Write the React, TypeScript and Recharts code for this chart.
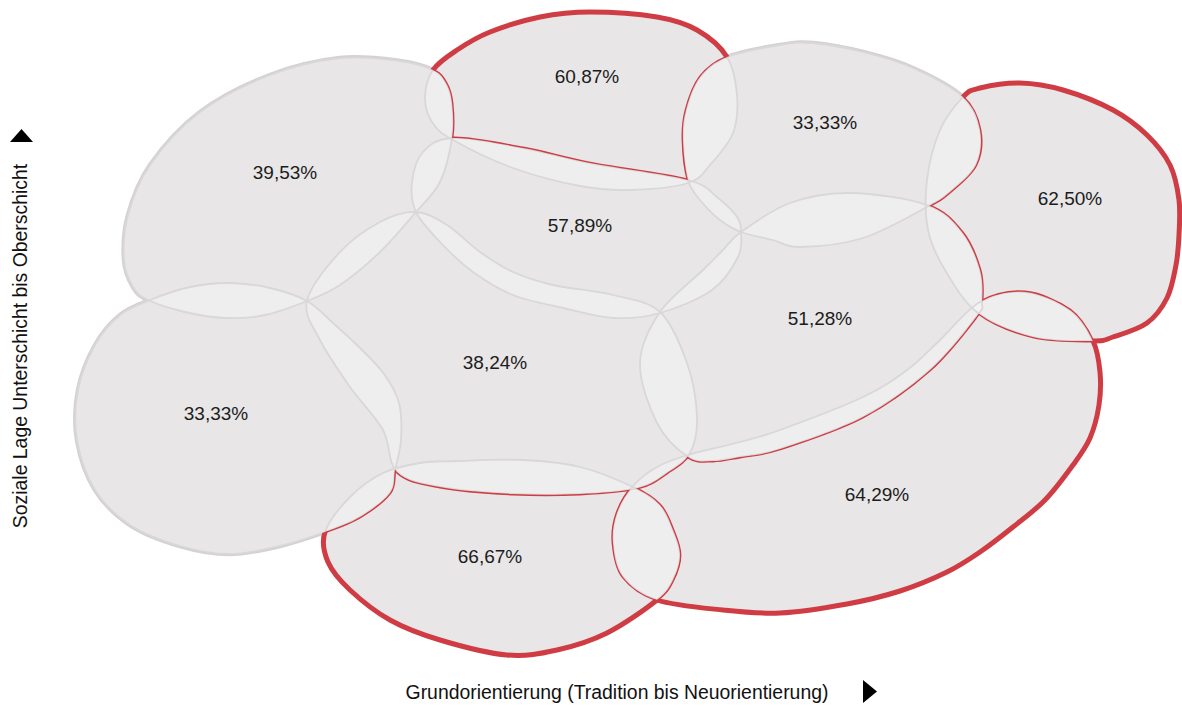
import React from 'react';
import { ScatterChart, Scatter, XAxis, YAxis } from 'recharts';

const W = 1182;
const H = 707;
const RED = '#cf3c44';

// Milieu labels (share values) and their centres on the map
const milieuLabels = ['39,53%', '33,33%', '60,87%', '57,89%', '38,24%', '33,33%', '62,50%', '51,28%', '66,67%', '64,29%'];
const labelX = [285, 216, 587, 580, 495, 825, 1070, 820, 490, 877];
const labelY = [172, 413, 76, 225, 362, 122, 198, 318, 556, 494];
const highlighted = [false, false, true, false, false, false, true, false, true, true];

// Milieu outlines (Grundorientierung x, soziale Lage y)
const outlineA = [[148,300],[133,287],[124,260],[128,215],[150,165],[200,112],[270,75],[340,58],[400,61],[433,70],[446,83],[452,103],[452,138],[440,182],[416,212],[380,252],[340,285],[307,301],[265,315],[225,318],[185,312]];
const outlineB = [[150,300],[190,287],[230,283],[270,288],[307,301],[333,323],[360,348],[384,374],[399,403],[401,440],[395,470],[390,493],[360,517],[325,532],[280,546],[230,554],[180,546],[130,525],[95,490],[77,440],[78,390],[95,345],[120,315]];
const outlineC = [[433,70],[457,50],[490,32],[540,17],[590,12],[657,17],[697,30],[727,57],[737,95],[733,133],[710,165],[688,183],[630,190],[580,186],[513,168],[453,140],[432,122],[425,97]];
const outlineD = [[453,138],[523,148],[590,163],[688,180],[718,198],[737,217],[741,232],[738,257],[712,290],[660,313],[613,318],[563,308],[513,295],[473,272],[440,242],[416,212],[412,182],[423,152]];
const outlineE = [[416,212],[447,225],[480,252],[513,272],[553,285],[613,295],[660,312],[687,363],[697,417],[690,453],[667,473],[638,488],[580,494],[513,494],[440,487],[397,472],[383,430],[350,387],[320,340],[307,301],[340,252],[380,222]];
const outlineF = [[727,57],[780,45],[813,43],[863,52],[913,68],[963,97],[980,130],[976,165],[950,192],[927,207],[863,238],[800,247],[773,240],[741,232],[720,220],[700,200],[688,180],[683,140],[686,110],[700,77]];
const outlineG = [[963,97],[980,88],[1020,83],[1063,90],[1113,110],[1147,135],[1170,165],[1179,200],[1179,235],[1176,265],[1167,298],[1147,323],[1113,337],[1093,341],[1033,337],[978,313],[945,270],[928,230],[927,180],[940,130]];
const outlineH = [[741,232],[790,203],[850,193],[927,205],[962,232],[980,270],[982,302],[977,316],[930,370],[863,417],[780,449],[740,457],[713,461],[688,457],[657,423],[640,363],[660,312],[703,270],[723,250]];
const outlineI = [[325,532],[350,497],[383,473],[420,463],[457,461],[523,460],[580,467],[633,487],[660,505],[673,530],[680,555],[673,580],[657,600],[607,633],[557,650],[507,655],[440,640],[390,620],[350,590],[328,562]];
const outlineJ = [[980,302],[1025,292],[1070,310],[1093,341],[1100,372],[1099,405],[1090,438],[1073,465],[1045,500],[1013,527],[980,552],[947,572],[900,591],[847,604],[780,613],[723,610],[657,600],[623,577],[613,543],[617,513],[633,486],[657,467],[688,455],[740,442],[780,430],[863,397],[907,370],[940,340]];

const outlines = [outlineA, outlineB, outlineC, outlineD, outlineE, outlineF, outlineG, outlineH, outlineI, outlineJ];

const outlinePoints = outlines.flatMap((o, b) => o.map(([x, y]) => ({ x, y, b })));
const labelPoints = milieuLabels.map((label, i) => ({ x: labelX[i], y: labelY[i], label }));

type P = { x: number; y: number };

function closedPath(pts: P[]): string {
  const n = pts.length;
  if (n < 3) return '';
  let d = `M${pts[0].x},${pts[0].y}`;
  for (let i = 0; i < n; i++) {
    const p0 = pts[(i - 1 + n) % n];
    const p1 = pts[i];
    const p2 = pts[(i + 1) % n];
    const p3 = pts[(i + 2) % n];
    const c1x = p1.x + (p2.x - p0.x) / 6;
    const c1y = p1.y + (p2.y - p0.y) / 6;
    const c2x = p2.x - (p3.x - p1.x) / 6;
    const c2y = p2.y - (p3.y - p1.y) / 6;
    d += ` C${c1x},${c1y} ${c2x},${c2y} ${p2.x},${p2.y}`;
  }
  return d + ' Z';
}

const renderBlobs = (props: any) => {
  const pts: P[] = props.points || [];
  const ds: string[] = [];
  let k = 0;
  outlines.forEach((o) => {
    ds.push(closedPath(pts.slice(k, k + o.length)));
    k += o.length;
  });
  return (
    <g className="milieu-blobs">
      <defs>
        {ds.map((d, i) =>
          highlighted[i] ? (
            <React.Fragment key={`defs-${i}`}>
              <mask id={`excl-${i}`} maskUnits="userSpaceOnUse" x={-50} y={-50} width={W + 100} height={H + 100}>
                <rect x={-50} y={-50} width={W + 100} height={H + 100} fill="#fff" />
                {ds.map((d2, j) => (j !== i ? <path key={j} d={d2} fill="#000" /> : null))}
              </mask>
              <clipPath id={`own-${i}`}>
                <path d={d} />
              </clipPath>
            </React.Fragment>
          ) : null
        )}
      </defs>
      {ds.map((d, i) =>
        highlighted[i] ? null : <path key={`u${i}`} d={d} fill="none" stroke="#d3d1d2" strokeWidth={4.5} />
      )}
      {ds.map((d, i) => (
        <path key={`f${i}`} d={d} fill="#dddadb" stroke="none" />
      ))}
      {ds.map((d, i) => (
        <path key={`w${i}`} d={d} fill="#ffffff" fillOpacity={1 / 3} stroke="none" />
      ))}
      {ds.map((d, i) => (
        <path key={`t${i}`} d={d} fill="none" stroke="#d9d7d8" strokeWidth={1.8} />
      ))}
      {ds.map((d, i) =>
        highlighted[i] ? (
          <g key={`r${i}`}>
            <g mask={`url(#excl-${i})`}>
              <path d={d} fill="none" stroke={RED} strokeWidth={5} />
            </g>
            <g mask={`url(#excl-${i})`}>
              <g clipPath={`url(#own-${i})`}>
                {ds.map((d2, j) => (j !== i ? <path key={j} d={d2} fill="none" stroke={RED} strokeWidth={2.8} /> : null))}
              </g>
            </g>
          </g>
        ) : null
      )}
    </g>
  );
};

const renderLabel = (p: any) => (
  <text
    x={p.cx}
    y={p.cy}
    dy="0.35em"
    textAnchor="middle"
    fontSize={19}
    fill="#1c1c1c"
    fontFamily='"Liberation Sans", Arial, sans-serif'
  >
    {p.payload.label}
  </text>
);

const emptyShape = () => <g />;

export default function App() {
  return (
    <div style={{ position: 'absolute', left: 0, top: 0, width: W, height: H, background: '#fff', fontFamily: '"Liberation Sans", Arial, sans-serif' }}>
      <ScatterChart width={W} height={H} margin={{ top: 0, right: 0, bottom: 0, left: 0 }}>
        <XAxis type="number" dataKey="x" domain={[0, W]} hide />
        <YAxis type="number" dataKey="y" domain={[0, H]} reversed hide />
        <Scatter data={outlinePoints} line={renderBlobs} lineType="joint" shape={emptyShape} isAnimationActive={false} />
        <Scatter data={labelPoints} shape={renderLabel} isAnimationActive={false} />
      </ScatterChart>
      <div style={{ position: 'absolute', left: 317, top: 680, width: 600, height: 24, lineHeight: '24px', textAlign: 'center', fontSize: 19.4, color: '#111' }}>
        Grundorientierung (Tradition bis Neuorientierung)
      </div>
      <svg style={{ position: 'absolute', left: 863, top: 680 }} width={14} height={23}>
        <polygon points="0,0 14,11.5 0,23" fill="#000" />
      </svg>
      <div style={{ position: 'absolute', left: -230, top: 334, width: 500, height: 24, lineHeight: '24px', textAlign: 'center', fontSize: 19.4, color: '#111', transform: 'rotate(-90deg)', whiteSpace: 'nowrap' }}>
        Soziale Lage Unterschicht bis Oberschicht
      </div>
      <svg style={{ position: 'absolute', left: 10, top: 129 }} width={23} height={13}>
        <polygon points="0,13 11.5,0 23,13" fill="#000" />
      </svg>
    </div>
  );
}
